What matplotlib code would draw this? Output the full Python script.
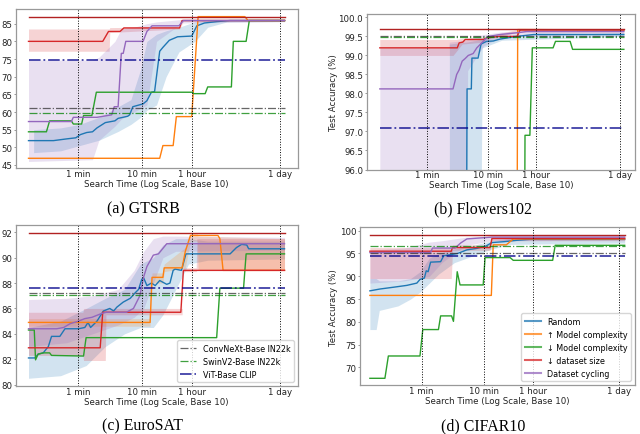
import numpy as np
import matplotlib
matplotlib.use('Agg')
import matplotlib.pyplot as plt

# ---------------- shared labels ----------------
TICK_SECONDS = [60, 600, 3600, 86400]
TICK_LABELS = ['1 min', '10 min', '1 hour', '1 day']
METHODS = ['Random', '↑ Model complexity', '↓ Model complexity', '↓ dataset size', 'Dataset cycling']
METHOD_COLORS = ['tab:blue', 'tab:orange', 'tab:green', 'tab:red', 'tab:purple']
BASELINES = ['ConvNeXt-Base IN22k', 'SwinV2-Base IN22k', 'ViT-Base CLIP']
BASELINE_COLORS = ['#333333', 'green', 'darkblue']
CAPTIONS = ['(a) GTSRB', '(b) Flowers102', '(c) EuroSAT', '(d) CIFAR10']
# times are stored as log10(seconds)

# ---------------- (a) GTSRB ----------------
A_RAND_T = [1.0, 1.39, 1.6, 1.74, 1.81, 1.91, 2.0, 2.07, 2.2, 2.35, 2.4, 2.55, 2.58, 2.63, 2.79, 2.85, 2.92, 2.97, 3.05, 3.10, 3.2, 3.33, 3.55, 3.63, 3.75, 3.95, 4.15, 5.0]
A_RAND_Y = [51.9, 51.9, 52.4, 52.7, 53.6, 54.2, 54.4, 55.5, 57.0, 57.5, 58.2, 58.8, 59.2, 61.5, 62.3, 63.2, 65.6, 65.8, 77.2, 78.3, 80.3, 81.3, 81.5, 84.4, 85.2, 85.6, 85.9, 85.9]
A_UP_T = [1.0, 3.05, 3.10, 3.26, 3.31, 3.55, 3.65, 4.38, 4.43, 5.0]
A_UP_Y = [46.9, 46.9, 50.5, 50.5, 58.7, 58.7, 87.0, 87.0, 85.9, 85.9]
A_DOWN_T = [1.0, 1.28, 1.33, 1.67, 1.70, 1.83, 1.86, 1.99, 2.06, 3.56, 3.58, 3.76, 3.80, 4.17, 4.20, 4.40, 4.45, 5.0]
A_DOWN_Y = [54.4, 54.4, 57.5, 57.5, 56.6, 56.6, 59.0, 59.0, 65.6, 65.6, 65.2, 65.2, 67.1, 67.1, 80.0, 80.0, 85.9, 85.9]
A_DS_T = [1.0, 2.16, 2.25, 2.43, 2.49, 3.36, 3.40, 5.0]
A_DS_Y = [80.0, 80.0, 82.8, 82.8, 83.8, 83.8, 85.9, 85.9]
A_CYC_T = [1.0, 1.67, 1.70, 2.07, 2.30, 2.34, 2.40, 2.45, 2.48, 2.52, 2.79, 2.85, 2.93, 3.35, 3.42, 5.0]
A_CYC_Y = [57.3, 57.3, 58.5, 58.5, 59.2, 61.5, 61.5, 76.6, 76.6, 80.0, 80.0, 82.8, 84.4, 84.4, 85.9, 85.9]
A_RAND_BAND_T = [1.08, 1.5, 1.8, 2.1, 2.4, 2.6, 2.75, 2.85, 3.0, 3.15, 3.35, 3.6, 3.8, 4.1, 5.0]
A_RAND_BAND_LO = [48.5, 49.0, 50.5, 52.0, 54.5, 56.5, 58.5, 60.5, 62.0, 70.0, 77.0, 80.0, 84.0, 85.5, 85.6]
A_RAND_BAND_HI = [55.0, 55.5, 56.5, 58.5, 61.5, 63.5, 72.0, 80.0, 82.0, 83.0, 84.0, 85.5, 86.2, 86.2, 86.2]
A_DS_BAND_T = [1.0, 2.26, 2.27, 3.36, 3.42, 5.0]
A_DS_BAND_LO = [77.2, 77.2, 82.5, 83.5, 85.7, 85.7]
A_DS_BAND_HI = [83.5, 83.5, 83.9, 84.1, 86.0, 86.0]
A_CYC_BAND_T = [1.0, 2.0, 2.1, 2.35, 2.45, 2.65, 2.85, 3.0, 3.4, 5.0]
A_CYC_BAND_LO = [46.0, 46.5, 52.0, 56.0, 58.0, 60.0, 62.0, 80.0, 85.2, 85.6]
A_CYC_BAND_HI = [74.7, 74.7, 75.5, 80.0, 83.5, 84.0, 85.0, 85.5, 86.2, 86.2]
A_TOP = 87.0
A_BASE = [61.2, 59.7, 74.7]

# ---------------- (b) Flowers102 ----------------
B_RAND_T = [1.0, 2.42, 2.43, 2.50, 2.51, 2.61, 2.66, 2.75, 2.86, 2.97, 3.24, 3.52, 5.0]
B_RAND_Y = [93.5, 93.5, 98.12, 98.12, 98.93, 98.93, 99.3, 99.37, 99.38, 99.43, 99.5, 99.55, 99.55]
B_UP_T = [1.0, 3.25, 3.26, 3.35, 5.0]
B_UP_Y = [94.0, 94.0, 99.68, 99.68, 99.67]
B_DOWN_T = [1.0, 3.37, 3.38, 3.46, 3.50, 3.84, 3.88, 4.12, 4.16, 5.0]
B_DOWN_Y = [93.0, 93.0, 96.9, 96.9, 99.2, 99.2, 99.37, 99.37, 99.16, 99.16]
B_DS_T = [1.0, 2.27, 2.30, 2.36, 2.40, 2.70, 2.75, 2.95, 3.25, 3.30, 5.0]
B_DS_Y = [99.2, 99.2, 99.33, 99.35, 99.42, 99.42, 99.46, 99.5, 99.5, 99.67, 99.67]
B_CYC_T = [1.0, 2.2, 2.26, 2.30, 2.35, 2.40, 2.45, 2.53, 2.59, 2.70, 2.78, 2.97, 3.27, 3.41, 5.0]
B_CYC_Y = [98.12, 98.12, 98.5, 98.62, 98.85, 98.92, 99.0, 99.05, 99.2, 99.38, 99.5, 99.55, 99.6, 99.63, 99.63]
B_RAND_BAND_T = [2.14, 2.42, 2.66, 2.68, 3.0, 5.0]
B_RAND_BAND_LO = [95.0, 95.0, 95.0, 99.2, 99.4, 99.5]
B_RAND_BAND_HI = [99.3, 99.35, 99.42, 99.45, 99.52, 99.6]
B_DS_BAND_T = [1.0, 2.2, 2.25, 2.35, 2.7, 2.8, 3.3, 5.0]
B_DS_BAND_LO = [99.0, 99.0, 99.1, 99.3, 99.35, 99.45, 99.62, 99.62]
B_DS_BAND_HI = [99.42, 99.42, 99.42, 99.45, 99.47, 99.52, 99.7, 99.7]
B_CYC_BAND_T = [1.0, 2.13, 2.14, 2.42, 2.44, 2.7, 3.0, 5.0]
B_CYC_BAND_LO = [95.0, 95.0, 95.0, 95.0, 98.6, 99.25, 99.5, 99.58]
B_CYC_BAND_HI = [99.2, 99.2, 99.35, 99.4, 99.45, 99.55, 99.62, 99.68]
B_TOP = 99.69
B_BASE = [99.5, 99.49, 97.08]

# ---------------- (c) EuroSAT ----------------
C_RAND_T = [1.0, 1.10, 1.15, 1.23, 1.31, 1.36, 1.49, 1.57, 1.78, 1.88, 1.93, 1.97, 2.07, 2.17, 2.27, 2.33, 2.38, 2.48, 2.59, 2.66, 2.72, 2.77, 2.80, 2.85, 2.92, 2.98, 3.05, 3.16, 3.21, 3.26, 3.29, 3.39, 3.46, 4.15, 4.25, 4.33, 4.41, 4.44, 5.0]
C_RAND_Y = [82.1, 82.1, 82.4, 82.5, 83.0, 83.8, 83.8, 84.4, 84.4, 84.5, 84.9, 84.5, 85.0, 85.8, 86.0, 85.8, 86.1, 86.5, 86.8, 87.2, 87.5, 88.3, 88.4, 87.8, 88.0, 87.8, 88.2, 87.9, 88.0, 89.0, 89.1, 89.0, 90.3, 90.3, 90.8, 91.05, 91.0, 90.7, 90.7]
C_UP_T = [1.0, 2.90, 2.93, 3.10, 3.12, 3.40, 3.45, 3.53, 3.96, 3.99, 4.04, 5.0]
C_UP_Y = [84.9, 84.9, 88.45, 88.45, 89.2, 89.2, 90.5, 91.75, 91.75, 91.5, 89.0, 89.0]
C_DOWN_T = [1.0, 1.09, 1.11, 1.15, 1.23, 1.33, 1.36, 1.86, 1.90, 3.94, 3.99, 4.36, 4.40, 5.0]
C_DOWN_Y = [84.3, 84.3, 81.95, 82.4, 82.5, 82.5, 82.3, 82.25, 83.7, 83.7, 87.6, 87.6, 90.3, 90.3]
C_DS_T = [1.0, 2.12, 2.16, 3.38, 3.42, 5.0]
C_DS_Y = [82.9, 82.9, 85.7, 85.7, 89.0, 89.0]
C_CYC_T = [1.0, 1.44, 1.55, 1.65, 1.78, 1.88, 1.99, 2.14, 2.22, 2.53, 2.64, 2.69, 2.74, 2.80, 2.85, 2.95, 3.03, 3.16, 5.0]
C_CYC_Y = [84.4, 84.4, 84.5, 84.8, 85.0, 85.2, 85.3, 85.6, 85.7, 85.7, 86.0, 86.5, 87.0, 88.5, 89.3, 90.2, 90.3, 91.1, 91.1]
C_RAND_BAND_T = [1.0, 1.5, 1.9, 2.2, 2.5, 2.75, 2.95, 3.1, 3.3, 3.5, 3.8, 5.0]
C_RAND_BAND_LO = [80.5, 80.7, 81.5, 83.0, 84.0, 84.5, 84.5, 85.5, 87.5, 89.5, 89.8, 89.9]
C_RAND_BAND_HI = [84.5, 85.0, 86.0, 86.8, 87.5, 89.5, 90.0, 91.0, 91.5, 91.5, 91.3, 91.3]
C_UP_BAND_T = [1.0, 2.9, 2.93, 3.1, 3.12, 3.45, 3.53, 3.64, 3.65, 5.0]
C_UP_BAND_LO = [84.6, 84.6, 88.0, 88.0, 88.9, 89.2, 91.3, 91.3, 89.0, 89.0]
C_UP_BAND_HI = [85.2, 85.2, 88.8, 88.8, 89.5, 90.8, 91.9, 91.9, 91.7, 91.5]
C_DS_BAND_T = [1.0, 1.85, 1.86, 2.20, 2.21, 3.40, 3.42, 3.62, 3.63, 5.0]
C_DS_BAND_LO = [82.3, 82.3, 81.9, 81.9, 85.5, 85.5, 88.9, 88.9, 89.0, 89.0]
C_DS_BAND_HI = [85.7, 85.7, 86.0, 86.0, 86.0, 86.0, 89.2, 89.2, 91.5, 91.5]
C_CYC_BAND_T = [1.0, 1.6, 2.0, 2.4, 2.65, 2.8, 2.95, 3.1, 3.3, 5.0]
C_CYC_BAND_LO = [83.0, 83.3, 84.0, 84.7, 85.3, 86.0, 88.0, 90.0, 90.5, 90.6]
C_CYC_BAND_HI = [86.7, 86.8, 87.0, 87.5, 89.0, 90.5, 91.5, 91.7, 91.7, 91.6]
C_TOP = 91.95
C_BASE = [87.25, 87.05, 87.6]

# ---------------- (d) CIFAR10 ----------------
D_RAND_T = [0.95, 1.11, 1.33, 1.54, 1.70, 1.75, 1.82, 1.85, 1.88, 1.92, 2.08, 2.13, 2.35, 2.50, 2.65, 2.80, 2.90, 3.10, 3.30, 3.50, 5.02]
D_RAND_Y = [86.8, 87.2, 87.6, 88.0, 88.5, 89.3, 89.6, 91.2, 91.0, 93.1, 93.2, 94.5, 95.0, 95.8, 96.1, 96.6, 97.4, 97.6, 97.9, 98.1, 98.1]
D_UP_T = [0.95, 2.89, 2.92, 3.13, 3.24, 5.02]
D_UP_Y = [85.8, 85.8, 96.9, 96.9, 98.2, 98.2]
D_DOWN_T = [0.95, 1.19, 1.245, 1.75, 1.795, 2.045, 2.08, 2.255, 2.285, 2.345, 2.39, 2.76, 2.79, 3.19, 3.24, 3.87, 3.91, 5.02]
D_DOWN_Y = [67.6, 67.6, 72.5, 72.5, 78.3, 78.3, 81.3, 81.3, 80.1, 91.0, 88.1, 88.1, 94.1, 94.1, 93.5, 93.5, 96.8, 96.8]
D_DS_T = [0.95, 2.25, 2.27, 2.87, 2.90, 5.02]
D_DS_Y = [95.5, 95.5, 96.3, 96.3, 98.3, 98.3]
D_CYC_T = [0.95, 1.92, 1.95, 2.31, 2.40, 2.50, 2.90, 5.02]
D_CYC_Y = [95.2, 95.2, 96.2, 96.2, 97.3, 98.2, 98.6, 98.6]
D_RAND_BAND_T = [0.95, 1.05, 1.10, 1.4, 1.6, 1.75, 1.9, 2.05, 2.3, 2.6, 2.9, 3.2, 5.02]
D_RAND_BAND_LO = [78.3, 78.3, 82.5, 83.5, 85.0, 86.5, 88.5, 90.5, 93.0, 94.5, 96.0, 97.0, 97.3]
D_RAND_BAND_HI = [89.5, 89.5, 89.0, 89.0, 89.5, 91.0, 94.0, 95.0, 96.0, 96.8, 97.8, 98.3, 98.4]
D_DS_BAND_T = [0.95, 2.25, 2.27, 2.87, 2.90, 5.02]
D_DS_BAND_LO = [89.5, 89.5, 95.7, 95.7, 97.8, 97.8]
D_DS_BAND_HI = [96.3, 96.3, 96.9, 96.9, 98.7, 98.7]
D_CYC_BAND_T = [0.95, 1.5, 1.9, 2.1, 2.3, 2.5, 2.9, 5.02]
D_CYC_BAND_LO = [88.5, 89.0, 90.0, 93.0, 95.0, 96.8, 97.8, 98.0]
D_CYC_BAND_HI = [95.8, 96.2, 97.5, 97.8, 98.2, 98.6, 98.8, 98.8]
D_TOP = 99.0
D_BASE = [95.2, 96.6, 94.4]

# ---------------- layout ----------------
W, H = 640, 435
plt.rcParams['font.family'] = ['DejaVu Sans']
FS = 6.2

panels = [
    dict(pos=(15.7, 10, 297.7, 169), xlim=(0.80, 5.206), ylim=(44.15, 89.16),
         yticks=np.arange(45, 86, 5), yfmt='{:.0f}', ylabel=False, ylab_x=None,
         lines=[(A_RAND_T, A_RAND_Y), (A_UP_T, A_UP_Y), (A_DOWN_T, A_DOWN_Y), (A_DS_T, A_DS_Y), (A_CYC_T, A_CYC_Y)],
         bands=[(0, A_RAND_BAND_T, A_RAND_BAND_LO, A_RAND_BAND_HI), (3, A_DS_BAND_T, A_DS_BAND_LO, A_DS_BAND_HI),
                (4, A_CYC_BAND_T, A_CYC_BAND_LO, A_CYC_BAND_HI)],
         top=A_TOP, base=A_BASE, legend=None, span=(1.0, 5.0)),
    dict(pos=(366.7, 15, 635, 170.5), xlim=(0.785, 5.183), ylim=(96.0, 100.09),
         yticks=np.arange(96.0, 100.01, 0.5), yfmt='{:.1f}', ylabel=True, ylab_x=-0.124,
         lines=[(B_RAND_T, B_RAND_Y), (B_UP_T, B_UP_Y), (B_DOWN_T, B_DOWN_Y), (B_DS_T, B_DS_Y), (B_CYC_T, B_CYC_Y)],
         bands=[(0, B_RAND_BAND_T, B_RAND_BAND_LO, B_RAND_BAND_HI), (3, B_DS_BAND_T, B_DS_BAND_LO, B_DS_BAND_HI),
                (4, B_CYC_BAND_T, B_CYC_BAND_LO, B_CYC_BAND_HI)],
         top=B_TOP, base=B_BASE, legend=None, span=(1.0, 5.0)),
    dict(pos=(15.7, 226, 297.7, 387), xlim=(0.80, 5.206), ylim=(79.89, 92.575),
         yticks=np.arange(80, 93, 2), yfmt='{:.0f}', ylabel=False, ylab_x=None,
         lines=[(C_RAND_T, C_RAND_Y), (C_UP_T, C_UP_Y), (C_DOWN_T, C_DOWN_Y), (C_DS_T, C_DS_Y), (C_CYC_T, C_CYC_Y)],
         bands=[(0, C_RAND_BAND_T, C_RAND_BAND_LO, C_RAND_BAND_HI), (1, C_UP_BAND_T, C_UP_BAND_LO, C_UP_BAND_HI),
                (3, C_DS_BAND_T, C_DS_BAND_LO, C_DS_BAND_HI), (4, C_CYC_BAND_T, C_CYC_BAND_LO, C_CYC_BAND_HI)],
         top=C_TOP, base=C_BASE, legend='base', span=(1.0, 5.0)),
    dict(pos=(360, 228.3, 635, 386), xlim=(0.792, 5.185), ylim=(66.13, 100.75),
         yticks=np.arange(70, 101, 5), yfmt='{:.0f}', ylabel=True, ylab_x=-0.097,
         lines=[(D_RAND_T, D_RAND_Y), (D_UP_T, D_UP_Y), (D_DOWN_T, D_DOWN_Y), (D_DS_T, D_DS_Y), (D_CYC_T, D_CYC_Y)],
         bands=[(0, D_RAND_BAND_T, D_RAND_BAND_LO, D_RAND_BAND_HI), (3, D_DS_BAND_T, D_DS_BAND_LO, D_DS_BAND_HI),
                (4, D_CYC_BAND_T, D_CYC_BAND_LO, D_CYC_BAND_HI)],
         top=D_TOP, base=D_BASE, legend='methods', span=(0.95, 5.02)),
]
caption_pos = [(143.7, 209.3), (483.3, 209.3), (142.8, 426.0), (483.3, 426.0)]
XLABEL_GAP_PX = 11.0  # distance from axes bottom to top of x-label box

fig = plt.figure(figsize=(W / 100, H / 100), dpi=100)
fig.patch.set_facecolor('white')

for i, p in enumerate(panels):
    l, t, r, b = p['pos']
    ax = fig.add_axes([l / W, 1 - b / H, (r - l) / W, (b - t) / H])
    ax.set_xscale('log')
    for ci, bt, blo, bhi in p['bands']:
        ax.fill_between(10 ** np.asarray(bt), blo, bhi, color=METHOD_COLORS[ci], alpha=0.2, lw=0)
    for ci, (lt, ly) in enumerate(p['lines']):
        ax.plot(10 ** np.asarray(lt), ly, color=METHOD_COLORS[ci], lw=1.0)
    x0, x1 = 10 ** p['span'][0], 10 ** p['span'][1]
    ax.plot([x0, x1], [p['top'], p['top']], color='#b22222', lw=1.0)
    for bi, bv in enumerate(p['base']):
        ax.plot([x0, x1], [bv, bv], color=BASELINE_COLORS[bi], ls='-.',
                lw=1.3 if bi == 2 else 0.9, alpha=0.75)
    for s in TICK_SECONDS:
        ax.axvline(s, color='k', ls=':', lw=0.7)
    ax.set_xlim(10 ** p['xlim'][0], 10 ** p['xlim'][1])
    ax.set_ylim(*p['ylim'])
    ax.set_xticks(TICK_SECONDS)
    ax.set_xticklabels(TICK_LABELS)
    ax.xaxis.set_minor_locator(matplotlib.ticker.NullLocator())
    ax.set_yticks(p['yticks'])
    ax.set_yticklabels([p['yfmt'].format(v) for v in p['yticks']])
    ax.tick_params(labelsize=FS, colors='#222222')
    ax.tick_params(axis='x', length=0, pad=0.6)
    ax.tick_params(axis='y', length=1.8, width=0.6, pad=0.8, color='#888888')
    for sp in ax.spines.values():
        sp.set_color('#999999')
        sp.set_linewidth(0.9)
    ax.set_xlabel('Search Time (Log Scale, Base 10)', fontsize=FS, color='#222222')
    ax.xaxis.label.set_verticalalignment('top')
    ax.xaxis.set_label_coords(0.5, -XLABEL_GAP_PX / (b - t))
    if p['ylabel']:
        ax.set_ylabel('Test Accuracy (%)', fontsize=FS, color='#222222')
        ax.yaxis.label.set_verticalalignment('center')
        ax.yaxis.set_label_coords(p['ylab_x'], 0.5)
    if p['legend'] == 'base':
        hs = [matplotlib.lines.Line2D([], [], color=BASELINE_COLORS[k], ls='-.',
                                      lw=1.3 if k == 2 else 0.9, alpha=0.75) for k in range(3)]
        ax.legend(hs, BASELINES, loc='lower right', fontsize=5.8, borderaxespad=0.5,
                  handlelength=2.0, labelspacing=0.5, framealpha=0.8)
    elif p['legend'] == 'methods':
        hs = [matplotlib.lines.Line2D([], [], color=METHOD_COLORS[k], lw=1.5, alpha=0.75) for k in range(5)]
        ax.legend(hs, METHODS, loc='lower right', fontsize=5.8, borderaxespad=0.5,
                  handlelength=2.0, labelspacing=0.5, framealpha=0.8)
    cx, cy = caption_pos[i]
    fig.text(cx / W, 1 - cy / H, CAPTIONS[i], ha='center', va='center',
             fontsize=11.4, family=['Liberation Serif', 'DejaVu Serif'])

fig.savefig('out.png', dpi=100)
